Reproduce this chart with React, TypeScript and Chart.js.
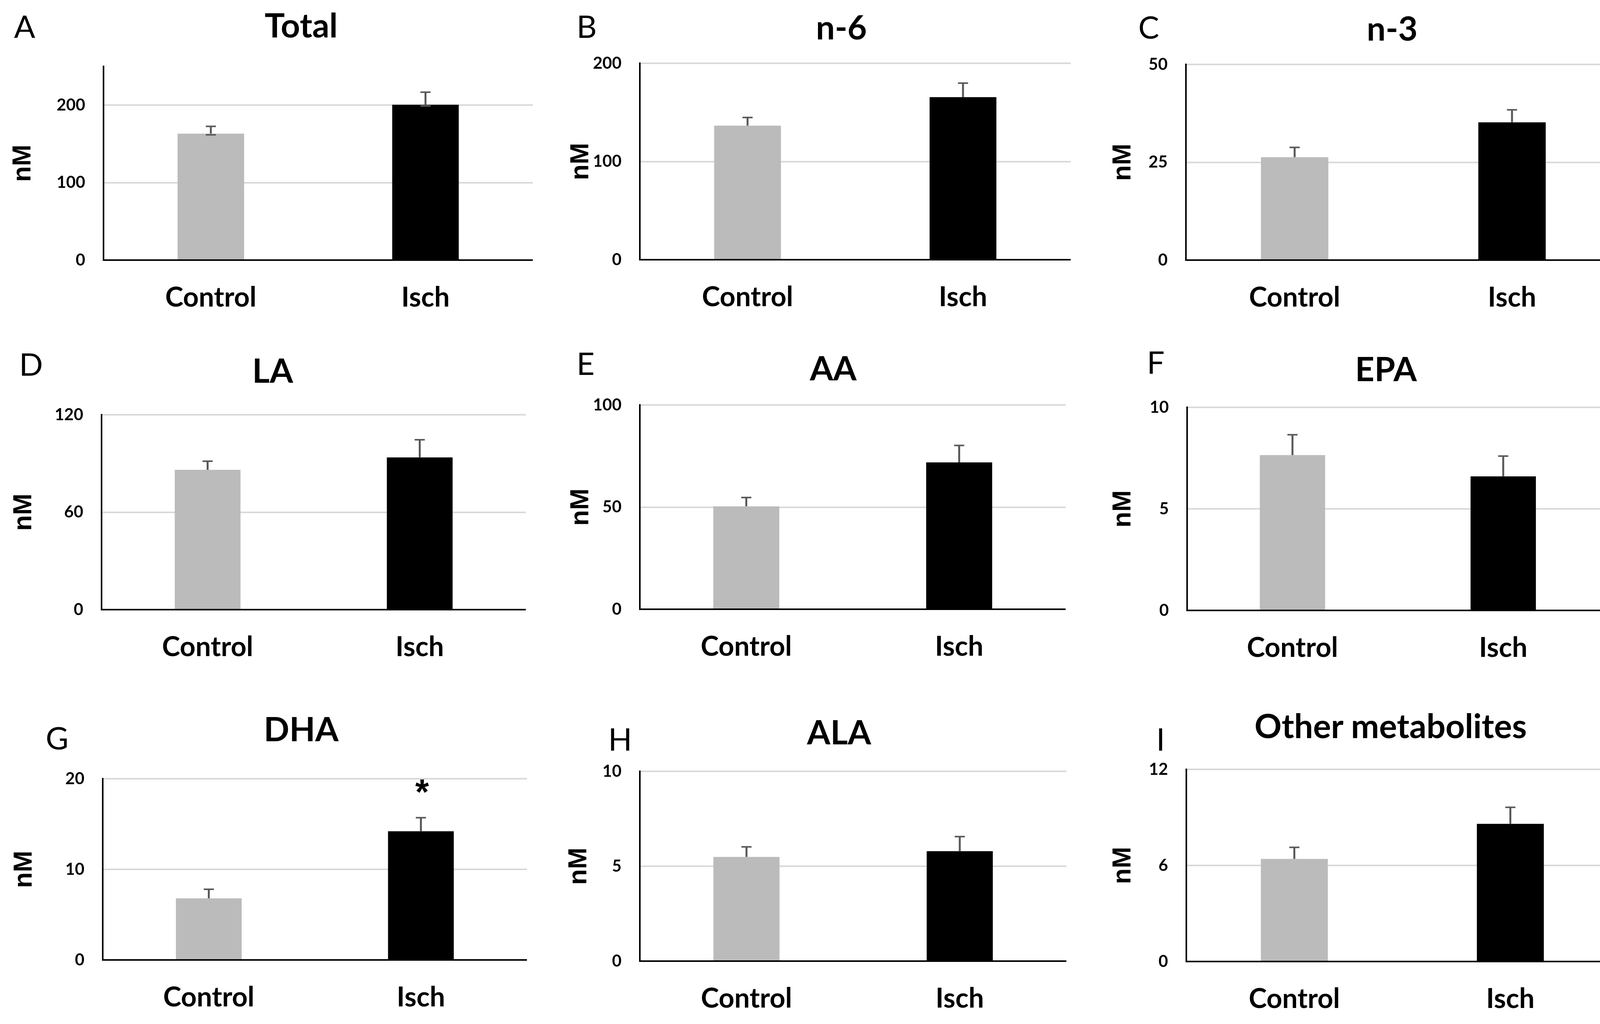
import React, { useEffect, useRef } from 'react';
import { Chart, registerables } from 'chart.js';

Chart.register(...registerables);

// ---------- data ----------
const categories = ['Control', 'Isch'];
const panelLetters = ['A', 'B', 'C', 'D', 'E', 'F', 'G', 'H', 'I'];
const panelTitles = ['Total', 'n-6', 'n-3', 'LA', 'AA', 'EPA', 'DHA', 'ALA', 'Other metabolites'];
const controlMeans = [163.2, 136.5, 26.3, 86.1, 50.4, 7.65, 6.8, 5.49, 6.41];
const controlSEM = [9.4, 8.3, 2.5, 5.3, 4.3, 1.0, 1.0, 0.53, 0.72];
const ischMeans = [200.5, 165.5, 35.2, 93.7, 71.9, 6.6, 14.2, 5.79, 8.6];
const ischSEM = [16.2, 14.3, 3.2, 10.9, 8.3, 1.0, 1.5, 0.77, 1.03];
const yMax = [250, 200, 50, 120, 100, 10, 20, 10, 12];
const yTicks = [
  [0, 100, 200],
  [0, 100, 200],
  [0, 25, 50],
  [0, 60, 120],
  [0, 50, 100],
  [0, 5, 10],
  [0, 10, 20],
  [0, 5, 10],
  [0, 6, 12],
];
const yAxisTitle = 'nM';
const ischSignificance = ['', '', '', '', '', '', '*', '', ''];

// ---------- layout (page pixels) ----------
const layout = [
  { L: 265, R: 1364, T: 170, B: 666, nm: 205, tx: 771, ty: 66, lx: 36, ly: 40, baseCap: true },
  { L: 1638, R: 2741, T: 162, B: 665, nm: 150, tx: 2154, ty: 71, lx: 1476, ly: 40, baseCap: false },
  { L: 3036, R: 4149, T: 165, B: 666, nm: 160, tx: 3564, ty: 74, lx: 2914, ly: 42, baseCap: false },
  { L: 260, R: 1346, T: 1062, B: 1561, nm: 198, tx: 698, ty: 950, lx: 49, ly: 905, baseCap: false },
  { L: 1638, R: 2728, T: 1037, B: 1560, nm: 150, tx: 2133, ty: 944, lx: 1476, ly: 903, baseCap: false },
  { L: 3039, R: 4118, T: 1043, B: 1563, nm: 163, tx: 3548, ty: 946, lx: 2936, ly: 900, baseCap: false },
  { L: 263, R: 1349, T: 1994, B: 2458, nm: 200, tx: 771, ty: 1868, lx: 117, ly: 1862, baseCap: false },
  { L: 1638, R: 2730, T: 1975, B: 2461, nm: 155, tx: 2148, ty: 1876, lx: 1557, ly: 1865, baseCap: false },
  { L: 3037, R: 4143, T: 1970, B: 2462, nm: 161, tx: 3560, ty: 1860, lx: 2960, ly: 1865, baseCap: false },
];

const FONT = 'Lato, "Open Sans", "Noto Sans", sans-serif';
const TOP_PAD = 90;
const X_AXIS_H = 170;
const NM_SIZE = 66;
const NM_HALF = NM_SIZE / 2;

function Panel({ i }: { i: number }) {
  const ref = useRef<HTMLCanvasElement | null>(null);
  const g = layout[i];
  const yAxisW = g.nm + NM_HALF;
  const left = g.L - yAxisW;
  const top = g.T - TOP_PAD;
  const width = g.R - left;
  const height = g.B + X_AXIS_H - top;

  useEffect(() => {
    const canvas = ref.current;
    if (!canvas) return;
    const errPlugin = {
      id: 'errbars',
      afterDatasetsDraw(chart: any) {
        const ctx = chart.ctx;
        const meta = chart.getDatasetMeta(0);
        const ys = chart.scales.y;
        const means = [controlMeans[i], ischMeans[i]];
        const sems = [controlSEM[i], ischSEM[i]];
        ctx.save();
        ctx.strokeStyle = '#595959';
        meta.data.forEach((bar: any, k: number) => {
          const x = bar.x;
          const yb = ys.getPixelForValue(means[k]);
          const yt = ys.getPixelForValue(means[k] + sems[k]);
          ctx.lineWidth = 5;
          ctx.beginPath();
          ctx.moveTo(x, yb);
          ctx.lineTo(x, yt);
          ctx.stroke();
          ctx.lineWidth = 4;
          ctx.beginPath();
          ctx.moveTo(x - 13, yt);
          ctx.lineTo(x + 13, yt);
          ctx.stroke();
          if (g.baseCap) {
            ctx.beginPath();
            ctx.moveTo(x - 13, yb + 3);
            ctx.lineTo(x + 13, yb + 3);
            ctx.stroke();
          }
          const mark = k === 1 ? ischSignificance[i] : '';
          if (mark) {
            ctx.fillStyle = '#000';
            ctx.font = 'bold 90px "Liberation Sans", sans-serif';
            ctx.textAlign = 'center';
            ctx.textBaseline = 'alphabetic';
            ctx.fillText(mark, x + 3, yt - 35);
          }
        });
        ctx.restore();
      },
    };

    const chart = new Chart(canvas, {
      type: 'bar',
      data: {
        labels: categories,
        datasets: [
          {
            data: [controlMeans[i], ischMeans[i]],
            backgroundColor: ['#BBBBBB', '#000000'],
            borderWidth: 0,
            barPercentage: 0.62,
            categoryPercentage: 0.5,
          },
        ],
      },
      options: {
        responsive: false,
        animation: false,
        devicePixelRatio: 1,
        layout: { padding: { top: TOP_PAD, left: 0, right: 0, bottom: 0 } },
        plugins: {
          legend: { display: false },
          tooltip: { enabled: false },
          title: { display: false },
        },
        scales: {
          x: {
            grid: { display: false, drawTicks: false },
            border: { display: true, color: '#000000', width: 4 },
            ticks: {
              color: '#000000',
              padding: 54,
              font: { family: FONT, size: 70, weight: 'bold', lineHeight: 1.2 },
            },
            afterFit: (scale: any) => {
              scale.height = X_AXIS_H;
            },
          },
          y: {
            min: 0,
            max: yMax[i],
            afterBuildTicks: (scale: any) => {
              scale.ticks = yTicks[i].map((v) => ({ value: v }));
            },
            afterFit: (scale: any) => {
              scale.width = yAxisW;
            },
            grid: { color: '#D9D9D9', lineWidth: 4, drawTicks: false },
            border: { display: true, color: '#000000', width: 4 },
            ticks: {
              color: '#000000',
              padding: 47,
              font: { family: FONT, size: 42, weight: 'bold', lineHeight: 1.2 },
              callback: (v: any) => String(v),
            },
            title: {
              display: true,
              text: yAxisTitle,
              color: '#000000',
              padding: 0,
              font: { family: '"Liberation Sans", Arial, sans-serif', size: NM_SIZE, weight: 'bold', lineHeight: 1 },
            },
          },
        },
      },
      plugins: [errPlugin],
    } as any);
    return () => chart.destroy();
  }, [i]);

  return (
    <>
      <canvas
        ref={ref}
        width={width}
        height={height}
        style={{ position: 'absolute', left, top, width, height }}
      />
      <div
        style={{
          position: 'absolute',
          left: g.lx,
          top: g.ly - 0.17 * 80,
          fontFamily: FONT,
          fontSize: 80,
          lineHeight: 1,
          fontWeight: 400,
          color: '#000',
          whiteSpace: 'nowrap',
        }}
      >
        {panelLetters[i]}
      </div>
      <div
        style={{
          position: 'absolute',
          left: g.tx,
          top: g.ty - 0.53 * 86,
          transform: 'translateX(-50%)',
          fontFamily: FONT,
          fontSize: 86,
          lineHeight: 1,
          fontWeight: 700,
          color: '#000',
          whiteSpace: 'nowrap',
        }}
      >
        {panelTitles[i]}
      </div>
    </>
  );
}

export default function App() {
  return (
    <div
      style={{
        position: 'absolute',
        left: 0,
        top: 0,
        width: 4179,
        height: 2622,
        background: '#ffffff',
        overflow: 'hidden',
      }}
    >
      {panelTitles.map((_, i) => (
        <Panel key={i} i={i} />
      ))}
    </div>
  );
}
